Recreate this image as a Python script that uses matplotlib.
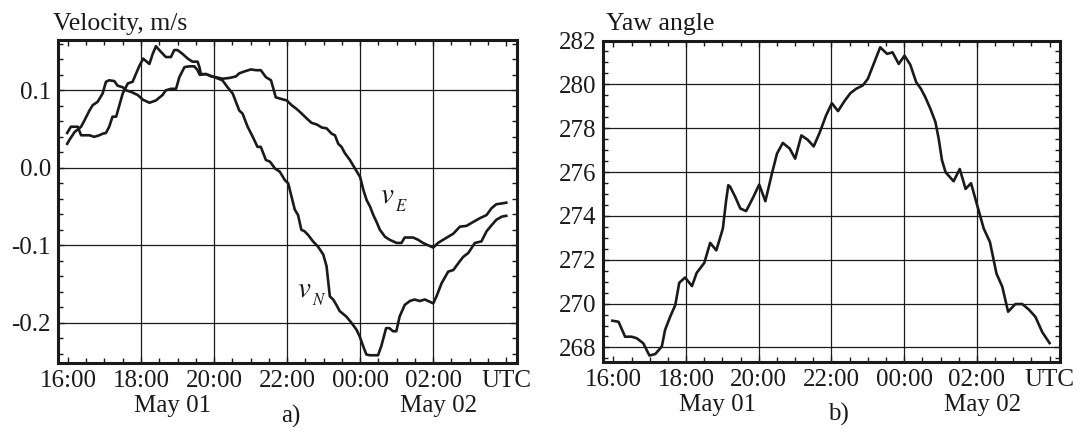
import matplotlib
matplotlib.use("Agg")
import matplotlib.pyplot as plt
from matplotlib.ticker import MultipleLocator
import matplotlib.transforms as mtransforms

plt.rcParams['font.family'] = ['Liberation Serif', 'DejaVu Serif']
plt.rcParams['mathtext.fontset'] = 'stix'

# time axis in hours from May 01 00:00 UTC (24 = May 02 00:00)
hora_ticks = [16, 18, 20, 22, 24, 26, 28]
hora_rotulos = ['16:00', '18:00', '20:00', '22:00', '00:00', '02:00', 'UTC']

# eastward velocity, m/s
t_ve = [15.98, 16.04, 16.18, 16.36, 16.45, 16.59, 16.68, 16.81, 16.95, 17.04,
        17.13, 17.27, 17.36, 17.50, 17.59, 17.73, 17.91, 18.05, 18.23, 18.41,
        18.59, 18.68, 18.82, 18.96, 19.05, 19.19, 19.32, 19.46, 19.55, 19.61,
        19.78, 19.92, 20.05, 20.23, 20.42, 20.60, 20.69, 20.87, 21.01, 21.15,
        21.28, 21.42, 21.56, 21.69, 21.83, 21.99, 22.12, 22.26, 22.40, 22.53,
        22.67, 22.81, 22.95, 23.08, 23.22, 23.31, 23.40, 23.49, 23.58, 23.72,
        23.86, 24.00, 24.09, 24.18, 24.27, 24.36, 24.45, 24.54, 24.68, 24.81,
        25.00, 25.13, 25.22, 25.45, 25.59, 25.72, 25.86, 26.00, 26.13, 26.27,
        26.41, 26.55, 26.73, 26.91, 27.09, 27.28, 27.46, 27.60, 27.73, 27.88,
        28.00]
ve = [0.031, 0.036, 0.046, 0.053, 0.061, 0.074, 0.081, 0.085, 0.096, 0.111,
      0.113, 0.112, 0.106, 0.104, 0.100, 0.098, 0.094, 0.088, 0.084, 0.087,
      0.094, 0.100, 0.102, 0.102, 0.117, 0.130, 0.131, 0.131, 0.126, 0.120,
      0.121, 0.118, 0.117, 0.115, 0.116, 0.118, 0.122, 0.125, 0.127, 0.126,
      0.126, 0.117, 0.113, 0.091, 0.089, 0.087, 0.081, 0.076, 0.070, 0.064,
      0.058, 0.056, 0.052, 0.051, 0.044, 0.042, 0.031, 0.027, 0.019, 0.010,
      -0.001, -0.012, -0.029, -0.042, -0.050, -0.061, -0.070, -0.080, -0.089, -0.093,
      -0.097, -0.097, -0.090, -0.090, -0.093, -0.097, -0.100, -0.103, -0.097, -0.093,
      -0.089, -0.085, -0.076, -0.075, -0.070, -0.065, -0.061, -0.052, -0.047, -0.046,
      -0.045]

# northward velocity, m/s
t_vn = [15.98, 16.08, 16.27, 16.36, 16.59, 16.72, 16.86, 16.95, 17.04, 17.13,
        17.22, 17.32, 17.41, 17.50, 17.64, 17.77, 17.86, 17.95, 18.06, 18.23,
        18.32, 18.41, 18.50, 18.68, 18.82, 18.91, 19.00, 19.14, 19.28, 19.41,
        19.55, 19.60, 19.64, 19.78, 20.01, 20.23, 20.37, 20.51, 20.69, 20.78,
        20.92, 21.06, 21.19, 21.28, 21.42, 21.53, 21.67, 21.80, 21.94, 22.03,
        22.12, 22.21, 22.30, 22.39, 22.48, 22.58, 22.71, 22.85, 22.99, 23.08,
        23.17, 23.26, 23.35, 23.44, 23.62, 23.76, 23.90, 23.99, 24.08, 24.17,
        24.26, 24.49, 24.58, 24.71, 24.80, 24.90, 24.99, 25.08, 25.22, 25.36,
        25.49, 25.63, 25.77, 26.00, 26.09, 26.23, 26.41, 26.55, 26.69, 26.82,
        26.96, 27.14, 27.32, 27.46, 27.60, 27.73, 27.88, 28.00]
vn = [0.045, 0.053, 0.053, 0.042, 0.042, 0.040, 0.042, 0.044, 0.045, 0.053,
      0.066, 0.066, 0.081, 0.096, 0.109, 0.111, 0.121, 0.131, 0.141, 0.134,
      0.147, 0.157, 0.152, 0.143, 0.143, 0.152, 0.152, 0.147, 0.141, 0.137,
      0.137, 0.130, 0.121, 0.121, 0.117, 0.113, 0.104, 0.096, 0.074, 0.070,
      0.053, 0.040, 0.027, 0.027, 0.010, 0.008, -0.001, -0.005, -0.016, -0.020,
      -0.037, -0.054, -0.061, -0.080, -0.082, -0.087, -0.095, -0.102, -0.112, -0.127,
      -0.166, -0.170, -0.177, -0.185, -0.192, -0.200, -0.209, -0.218, -0.230, -0.241,
      -0.242, -0.242, -0.230, -0.207, -0.207, -0.211, -0.211, -0.192, -0.177, -0.172,
      -0.170, -0.172, -0.170, -0.175, -0.166, -0.149, -0.134, -0.132, -0.123, -0.115,
      -0.110, -0.097, -0.095, -0.082, -0.074, -0.067, -0.063, -0.062]

# yaw angle, degrees
t_yaw = [15.97, 16.14, 16.32, 16.50, 16.64, 16.82, 16.99, 17.15, 17.33, 17.42,
         17.56, 17.70, 17.81, 17.97, 18.16, 18.29, 18.50, 18.66, 18.83, 19.01,
         19.10, 19.16, 19.21, 19.35, 19.49, 19.65, 19.84, 20.01, 20.18, 20.36,
         20.50, 20.66, 20.85, 21.00, 21.17, 21.34, 21.51, 21.67, 21.85, 22.01,
         22.18, 22.35, 22.52, 22.68, 22.86, 23.00, 23.16, 23.34, 23.53, 23.68,
         23.85, 24.01, 24.17, 24.33, 24.46, 24.58, 24.72, 24.86, 24.95, 25.04,
         25.14, 25.36, 25.53, 25.69, 25.84, 26.01, 26.19, 26.36, 26.54, 26.70,
         26.86, 27.06, 27.25, 27.43, 27.61, 27.80, 28.00]
yaw = [269.22, 269.17, 268.49, 268.49, 268.42, 268.19, 267.63, 267.70, 268.04, 268.80,
       269.40, 269.93, 270.95, 271.19, 270.80, 271.40, 271.86, 272.77, 272.43, 273.42,
       274.70, 275.40, 275.33, 274.87, 274.34, 274.22, 274.83, 275.43, 274.67, 275.93,
       276.84, 277.33, 277.07, 276.61, 277.67, 277.48, 277.17, 277.78, 278.58, 279.14,
       278.78, 279.22, 279.60, 279.80, 279.95, 280.25, 280.93, 281.69, 281.39, 281.46,
       280.93, 281.31, 280.89, 280.10, 279.80, 279.42, 278.89, 278.28, 277.52, 276.54,
       275.99, 275.58, 276.14, 275.23, 275.49, 274.48, 273.42, 272.81, 271.37, 270.77,
       269.63, 269.98, 269.98, 269.73, 269.40, 268.70, 268.20]

cor = '#1a1a1a'
W, H = 1087, 432

fig = plt.figure(figsize=(W / 100, H / 100), dpi=100)
ax1 = fig.add_axes([57.7 / W, 1 - 363 / H, 458.8 / W, 323 / H])
ax2 = fig.add_axes([603.3 / W, 1 - 361.7 / H, 456.4 / W, 321.2 / H])


def formatar_eixo(ax, titulo, x_titulo, rotulo, x_rotulo):
    ax.set_xlim(15.72, 28.28)
    ax.set_xticks(hora_ticks)
    ax.set_xticklabels(hora_rotulos)
    ax.xaxis.set_minor_locator(MultipleLocator(0.5))
    ax.grid(True, which='major', color=cor, linewidth=0.9)
    # no grid on the first and last hour ticks
    for linha in (ax.get_xgridlines()[0], ax.get_xgridlines()[-1]):
        linha.set_visible(False)
    ax.tick_params(which='both', direction='in', top=True, right=True,
                   labelsize=18, colors=cor, pad=5)
    ax.tick_params(which='major', length=4.5, width=1)
    ax.tick_params(which='minor', length=3.5, width=1)
    for s in ax.spines.values():
        s.set_linewidth(2.2)
        s.set_color(cor)
    fig.text(x_titulo / W, 1 - 30 / H, titulo, ha='left', va='baseline',
             fontsize=18.5, color=cor)
    trans = mtransforms.blended_transform_factory(ax.transData, ax.transAxes)
    ax.text(18.87, -0.152, 'May 01', transform=trans, ha='center',
            va='baseline', fontsize=18, color=cor)
    ax.text(26.15, -0.152, 'May 02', transform=trans, ha='center',
            va='baseline', fontsize=18, color=cor)
    ax.text(x_rotulo, -0.165, rotulo, transform=trans, ha='center',
            va='center', fontsize=18, color=cor)


def rotulo_curva(ax, x, y, sub):
    # italic v with a small lowered subscript
    ax.text(x, y, r'$v$', fontsize=21, ha='left', va='center', color=cor)
    ax.annotate(r'$' + sub + '$', (x, y), xytext=(10.5, -8),
                textcoords='offset points', fontsize=12, ha='left',
                va='center', color=cor)


ax1.plot(t_ve, ve, color=cor, linewidth=1.9)
ax1.plot(t_vn, vn, color=cor, linewidth=1.9)
ax1.set_ylim(-0.252, 0.165)
ax1.set_yticks([-0.2, -0.1, 0.0, 0.1])
ax1.set_yticklabels(['-0.2', '-0.1', '0.0', '0.1'])
ax1.yaxis.set_minor_locator(MultipleLocator(0.02))
rotulo_curva(ax1, 24.55, -0.036, 'E')
rotulo_curva(ax1, 22.28, -0.157, 'N')
formatar_eixo(ax1, 'Velocity, m/s', 53, 'a)', 22.1)

ax2.plot(t_yaw, yaw, color=cor, linewidth=1.9)
ax2.set_ylim(267.35, 282.0)
ax2.set_yticks(range(268, 283, 2))
ax2.yaxis.set_minor_locator(MultipleLocator(0.5))
formatar_eixo(ax2, 'Yaw angle', 606, 'b)', 22.2)

fig.savefig('out.png', dpi=100)
